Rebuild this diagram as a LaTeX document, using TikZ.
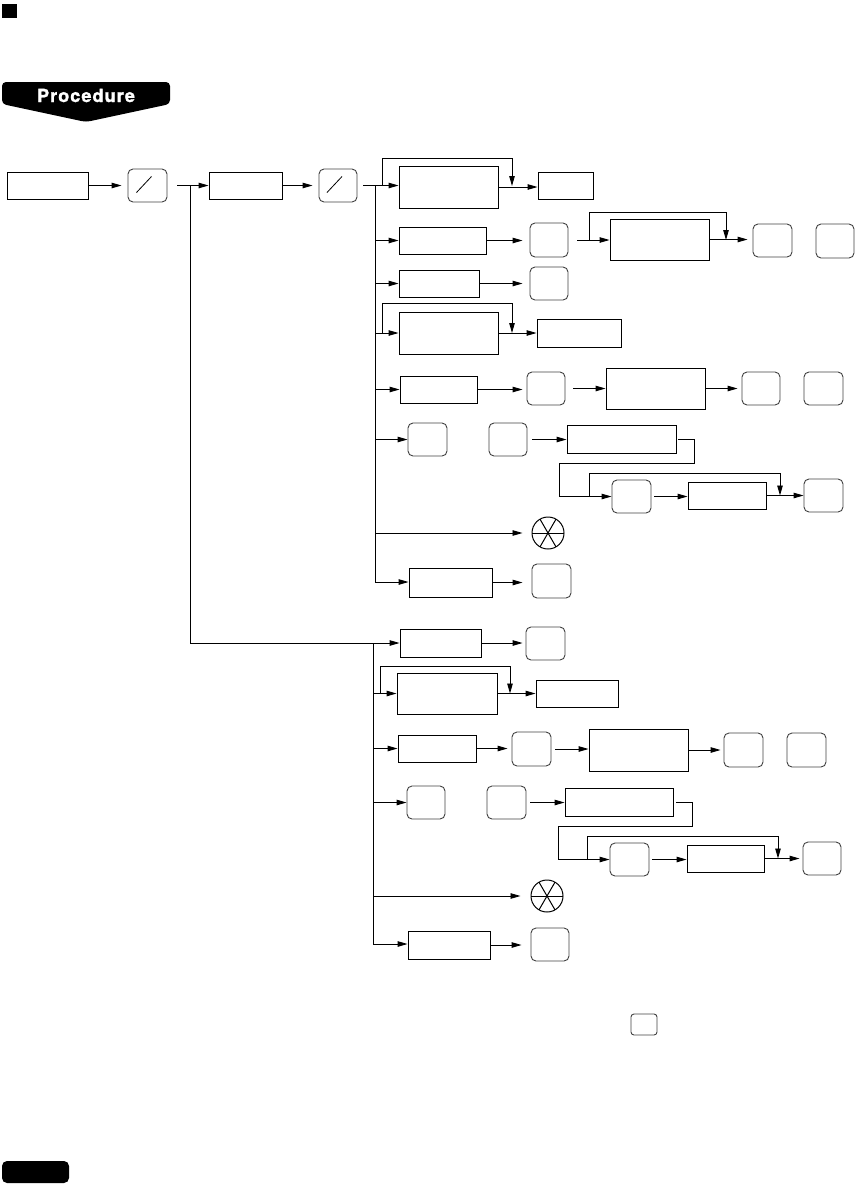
\documentclass[tikz,border=0pt]{standalone}
\usepackage{fontspec}
\newfontfamily\bannerfont[LetterSpace=6,FakeBold=1.6]{TeX Gyre Heros}
\usetikzlibrary{arrows.meta,calc}
\newcommand\rbox[5]{\node[bx, minimum width={(#4-#2)*1pt}, minimum height={(#5-#3)*1pt}] (#1) at ({(#2+#4)/2},{(#3+#5)/2}) {};}
\newcommand\rkey[5]{\node[ky, minimum width={(#4-#2)*1pt}, minimum height={(#5-#3)*1pt}] (#1) at ({(#2+#4)/2},{(#3+#5)/2}) {};}
\newcommand\slashin[1]{\draw[line width=0.8pt] ($(#1.center)+(-11,7)$) -- ($(#1.center)+(4,-9)$);}
\newcommand\spokes[1]{\foreach \a in {0,60,120} \draw[line width=1pt] ($(#1.center)+(\a:16)$) -- ($(#1.center)+(\a+180:16)$);}
\begin{document}
\begin{tikzpicture}[x=1pt, y=-1pt, line width=0.9pt,
  arr/.style={-{Triangle[length=10pt,width=5.5pt]}},
  bx/.style={draw, rectangle, inner sep=0pt, line width=0.9pt},
  ky/.style={draw=black!75, rounded corners=5pt, inner sep=0pt, line width=0.9pt},
  wheel/.style={draw, circle, inner sep=0pt, minimum size=32pt, line width=1pt}]
\useasboundingbox (0,0) rectangle (855,1184);

% header decorations
\fill (2,4) rectangle (17,18);
\fill[rounded corners=4pt] (86,122) -- (2,104) -- (2,82) -- (170,82) -- (170,104) -- cycle;
\node[text=white, anchor=base, inner sep=0pt, font=\bannerfont\bfseries\fontsize{18}{18}\selectfont] (proc) at (86,102) {Procedure};
\fill[rounded corners=5pt] (2,1161) rectangle (69,1183);

% top row
\rbox{b1}{7}{172}{88}{199}
\rkey{k1}{128}{169}{167}{202}
\rbox{b2}{209}{172}{282}{199}
\rkey{k2}{319}{169}{357}{202}
\slashin{k1}
\slashin{k2}
\coordinate (j1) at (190,186);
\coordinate (jU1) at (375,186);
\coordinate (jU2) at (375,582);
\draw[arr, shorten >=6pt] (b1.east) -- (b1.east -| k1.west);
\draw[arr, shorten <=10pt] (k1.east) -- (k1.east -| b2.west);
\draw[arr, shorten >=6pt] (b2.east) -- (b2.east -| k2.west);

% ---------- upper block ----------
% row 1
\rbox{A1}{399}{166}{498}{208}
\rbox{A2}{538}{172}{593}{199}
\draw[arr, shorten <=6pt] (k2.east) -- (k2.east -| A1.west);
\draw (jU1) -- (jU2);
\draw[arr] (A1.east) -- (A1.east -| A2.west);
\draw[arr] (382,186) |- (512,158) -- (512,186);
% row 2
\rbox{B1}{399}{227}{486}{254}
\rkey{Bk1}{530}{223}{568}{257}
\rbox{B2}{610}{219}{709}{260}
\rkey{Bk2}{753}{224}{792}{257}
\rkey{Bk3}{816}{224}{854}{258}
\draw[arr] (jU1 |- B1.west) -- (B1.west);
\draw[arr, shorten >=7pt] (B1.east) -- (B1.east -| Bk1.west);
\draw[arr, shorten <=9pt] (Bk1.east) -- (Bk1.east -| B2.west);
\draw[arr] (589,240) |- (726,212) -- (726,240);
\draw[arr, shorten >=5pt] (B2.east) -- (B2.east -| Bk2.west);
% row 3
\rbox{C1}{399}{270}{479}{297}
\rkey{Ck}{530}{267}{568}{300}
\draw[arr] (jU1 |- C1.west) -- (C1.west);
\draw[arr, shorten >=7pt] (C1.east) -- (C1.east -| Ck.west);
% row 4
\rbox{D1}{399}{312}{498}{354}
\rbox{D2}{537}{319}{621}{347}
\draw[arr] (jU1 |- D1.west) -- (D1.west);
\draw[arr] (D1.east) -- (D1.east -| D2.west);
\draw[arr] (382,333) |- (512,303) -- (512,333);
% row 5
\rbox{E1}{400}{376}{477}{403}
\rkey{Ek1}{527}{372}{565}{405}
\rbox{E2}{606}{368}{705}{409}
\rkey{Ek2}{742}{372}{780}{405}
\rkey{Ek3}{804}{372}{843}{405}
\draw[arr] (jU1 |- E1.west) -- (E1.west);
\draw[arr, shorten >=4pt] (E1.east) -- (E1.east -| Ek1.west);
\draw[arr, shorten <=8pt] (Ek1.east) -- (Ek1.east -| E2.west);
\draw[arr, shorten >=4pt] (E2.east) -- (E2.east -| Ek2.west);
% row 6
\rkey{Fk1}{408}{423}{447}{456}
\rkey{Fk2}{489}{423}{527}{456}
\rbox{F1}{567}{425}{676}{453}
\rkey{Fk3}{612}{480}{651}{513}
\rbox{F2}{688}{482}{766}{509}
\rkey{Fk4}{804}{479}{843}{512}
\draw[arr] (jU1 |- Fk1.west) -- (Fk1.west);
\draw[arr, shorten <=5pt] (Fk2.east) -- (Fk2.east -| F1.west);
\draw[arr, shorten <=2pt] (F1.east) -| (694,463) -| (559,496.5) -- (Fk3.west);
\draw[arr] (589,496.5) |- (780,473) -- (780,495.5);
\draw[arr, shorten <=3pt] (Fk3.east) -- (Fk3.east -| F2.west);
\draw[arr] (F2.east) -- (F2.east -| Fk4.west);
% row 7
\node[wheel] (G) at (548,533) {};
\spokes{G}
\draw[arr, shorten >=9pt] (jU1 |- G.west) -- (G.west);
% row 8
\rbox{H1}{409}{568}{492}{597}
\rkey{Hk}{532}{564}{571}{598}
\draw[arr] (jU2) -- (jU2 -| H1.west);
\draw[arr, shorten >=9pt] (H1.east) -- (H1.east -| Hk.west);

% ---------- lower block ----------
\coordinate (jL1) at (373,643);
\coordinate (jL2) at (373,944);
% row 9
\rbox{I1}{400}{629}{481}{657}
\rkey{Ik}{526}{627}{565}{660}
\draw[arr] (j1) |- (I1.west);
\draw (jL1) -- (jL2);
\draw[arr, shorten >=3pt] (I1.east) -- (I1.east -| Ik.west);
% row 10
\rbox{J1}{397}{673}{497}{714}
\rbox{J2}{536}{680}{618}{707}
\draw[arr] (jL1 |- J1.west) -- (J1.west);
\draw[arr] (J1.east) -- (J1.east -| J2.west);
\draw[arr] (380,693.5) |- (510,666) -- (510,693.5);
% row 11
\rbox{K1}{398}{735}{476}{762}
\rkey{Kk1}{512}{732}{551}{766}
\rbox{K2}{589}{729}{688}{771}
\rkey{Kk2}{724}{733}{763}{767}
\rkey{Kk3}{787}{733}{826}{767}
\draw[arr] (jL1 |- K1.west) -- (K1.west);
\draw[arr, shorten >=4pt] (K1.east) -- (K1.east -| Kk1.west);
\draw[arr, shorten <=4pt] (Kk1.east) -- (Kk1.east -| K2.west);
\draw[arr, shorten >=3pt] (K2.east) -- (K2.east -| Kk2.west);
% row 12
\rkey{Lk1}{407}{786}{445}{819}
\rkey{Lk2}{487}{786}{526}{819}
\rbox{L1}{565}{788}{673}{816}
\rkey{Lk3}{610}{843}{649}{876}
\rbox{L2}{687}{845}{764}{872}
\rkey{Lk4}{803}{842}{841}{875}
\draw[arr] (jL1 |- Lk1.west) -- (Lk1.west);
\draw[arr, shorten <=4pt] (Lk2.east) -- (Lk2.east -| L1.west);
\draw[arr, shorten <=3pt] (L1.east) -| (692,826) -| (558,859.5) -- (Lk3.west);
\draw[arr] (587,859.5) |- (778,836) -- (778,858.5);
\draw[arr, shorten <=3pt] (Lk3.east) -- (Lk3.east -| L2.west);
\draw[arr, shorten >=3pt] (L2.east) -- (L2.east -| Lk4.west);
% row 13
\node[wheel] (N) at (547,896) {};
\spokes{N}
\draw[arr, shorten >=10pt] (jL1 |- N.west) -- (N.west);
% row 14
\rbox{M1}{408}{931}{490}{959}
\rkey{Mk}{531}{928}{569}{961}
\draw[arr] (jL2) -- (jL2 -| M1.west);
\draw[arr, shorten >=9pt] (M1.east) -- (M1.east -| Mk.west);

% footnote key
\node[ky, rounded corners=3pt, minimum width=26pt, minimum height=21pt] (fk) at (644,1024.5) {};
\end{tikzpicture}
\end{document}
